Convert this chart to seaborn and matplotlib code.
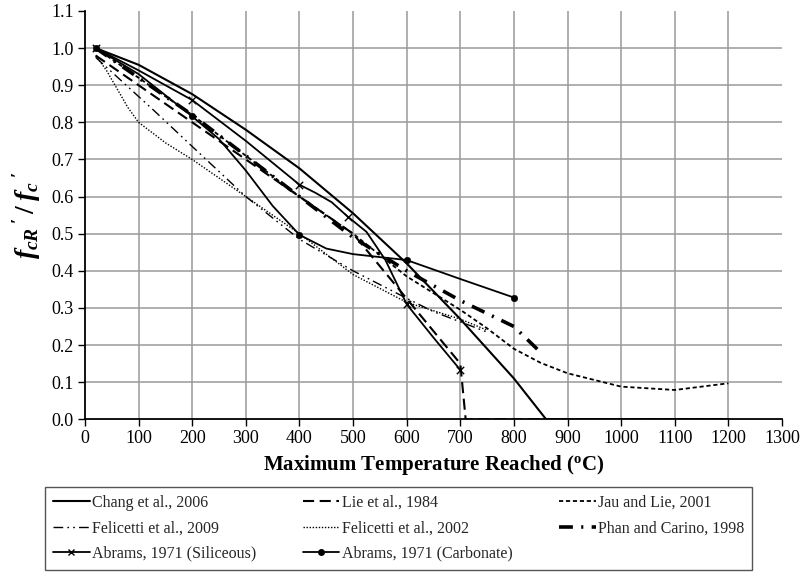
import matplotlib
matplotlib.use("Agg")
import matplotlib.pyplot as plt
from matplotlib.lines import Line2D
import seaborn as sns
import numpy as np

# ---------------- data ----------------
chang_T = [20, 100, 200, 300, 400, 500, 600, 700, 800, 860, 1200]
chang_v = [1.0, 0.955, 0.876, 0.78, 0.676, 0.555, 0.42, 0.27, 0.11, 0.0, 0.0]

lie_T = [20, 100, 200, 300, 400, 500, 600, 700, 710, 1200]
lie_v = [0.98, 0.90, 0.80, 0.70, 0.60, 0.50, 0.325, 0.15, 0.0, 0.0]

jau_T = [20, 100, 200, 300, 400, 500, 600, 700, 750, 800, 850, 900, 1000, 1100, 1200]
jau_v = [1.0, 0.92, 0.82, 0.71, 0.60, 0.50, 0.385, 0.295, 0.245, 0.19, 0.152, 0.124, 0.088, 0.079, 0.097]

fel09_T = [20, 130, 200, 300, 400, 500, 600, 650, 750]
fel09_v = [0.975, 0.83, 0.735, 0.60, 0.485, 0.40, 0.326, 0.29, 0.235]

fel02_T = [20, 40, 60, 80, 100, 150, 200, 300, 400, 500, 600, 700, 750]
fel02_v = [0.98, 0.94, 0.89, 0.84, 0.80, 0.745, 0.70, 0.60, 0.50, 0.39, 0.315, 0.27, 0.24]

phan_T = [20, 100, 200, 300, 400, 500, 600, 650, 700, 750, 800, 850]
phan_v = [1.0, 0.92, 0.82, 0.71, 0.60, 0.49, 0.40, 0.36, 0.32, 0.285, 0.25, 0.18]

# Abrams, 1971 (Siliceous): curve points and measured points (markers)
abs_T = [20, 100, 200, 300, 400, 430, 460, 490, 525, 560, 600, 650, 700]
abs_v = [1.0, 0.94, 0.86, 0.75, 0.632, 0.61, 0.585, 0.546, 0.505, 0.43, 0.31, 0.22, 0.133]
abs_mT = [20, 200, 400, 490, 600, 700]
abs_mv = [1.0, 0.86, 0.632, 0.546, 0.31, 0.133]

# Abrams, 1971 (Carbonate)
abc_T = [20, 100, 200, 250, 300, 350, 400, 450, 500, 550, 600, 700, 800]
abc_v = [1.0, 0.93, 0.816, 0.755, 0.67, 0.575, 0.497, 0.46, 0.445, 0.437, 0.429, 0.378, 0.328]
abc_mT = [20, 200, 400, 600, 800]
abc_mv = [1.0, 0.816, 0.497, 0.429, 0.328]

x_ticks = list(range(0, 1301, 100))
y_ticks = [round(0.1 * i, 1) for i in range(12)]

labels = ["Chang et al., 2006", "Lie et al., 1984", "Jau and Lie, 2001",
          "Felicetti et al., 2009", "Felicetti et al., 2002", "Phan and Carino, 1998",
          "Abrams, 1971 (Siliceous)", "Abrams, 1971 (Carbonate)"]

# ---------------- style ----------------
sns.set_theme(style="white")
plt.rcParams['font.family'] = ['Liberation Serif', 'DejaVu Serif']
plt.rcParams['lines.scale_dashes'] = False
plt.rcParams['mathtext.fontset'] = 'custom'
plt.rcParams['mathtext.it'] = 'Liberation Serif:italic:bold'
plt.rcParams['mathtext.rm'] = 'Liberation Serif:bold'

fig = plt.figure(figsize=(8.06, 5.78), dpi=100)
ax = fig.add_axes([85 / 806, 1 - 419.3 / 578, (782 - 85) / 806, (419.3 - 11) / 578])

styles = {
    "chang": dict(lw=1.5, dashes=None),
    "lie": dict(lw=1.5, dashes=(8, 4)),
    "jau": dict(lw=1.3, dashes=(3, 2)),
    "fel09": dict(lw=1.0, dashes=(7, 3, 1.2, 3, 1.2, 3)),
    "fel02": dict(lw=1.0, dashes=(1, 1.2)),
    "phan": dict(lw=2.6, dashes=(10, 6, 1.5, 6)),
    "abs": dict(lw=1.3, dashes=None),
    "abc": dict(lw=1.3, dashes=None),
}
keys = ["chang", "lie", "jau", "fel09", "fel02", "phan", "abs", "abc"]

series = [("chang", chang_T, chang_v), ("lie", lie_T, lie_v), ("jau", jau_T, jau_v),
          ("fel09", fel09_T, fel09_v), ("fel02", fel02_T, fel02_v), ("phan", phan_T, phan_v),
          ("abs", abs_T, abs_v), ("abc", abc_T, abc_v)]

for key, T, v in series:
    sns.lineplot(x=T, y=v, ax=ax, color='black', sort=False, estimator=None,
                 linewidth=styles[key]['lw'], zorder=3)
    ln = ax.lines[-1]
    if styles[key]['dashes'] is not None:
        ln.set_dashes(styles[key]['dashes'])
    ln.set_solid_capstyle('butt')
    ln.set_dash_capstyle('butt')
    ln.set_solid_joinstyle('round')

sns.scatterplot(x=abs_mT, y=abs_mv, ax=ax, marker='x', color='black', s=28,
                linewidth=1.0, zorder=4)
sns.scatterplot(x=abc_mT, y=abc_mv, ax=ax, marker='o', color='black', s=22,
                edgecolor='black', zorder=4)

ax.set_xlim(0, 1300)
ax.set_ylim(0, 1.1)
ax.set_xticks(x_ticks)
ax.set_yticks(y_ticks)
ax.set_xticklabels([str(t) for t in x_ticks], fontsize=13)
ax.set_yticklabels([f"{t:.1f}" for t in y_ticks], fontsize=13)
ax.grid(True, color='#9a9a9a', linewidth=1.1)
ax.set_axisbelow(True)
ax.xaxis.get_gridlines()[-1].set_visible(False)
ax.xaxis.get_gridlines()[0].set_visible(False)
ax.yaxis.get_gridlines()[-1].set_visible(False)
ax.yaxis.get_gridlines()[0].set_visible(False)
for s in ['top', 'right']:
    ax.spines[s].set_visible(False)
for s in ['left', 'bottom']:
    ax.spines[s].set_color('black')
    ax.spines[s].set_linewidth(1.3)
ax.tick_params(axis='both', direction='out', length=5, width=1.0, color='black',
               bottom=True, left=True, pad=3, labelcolor='black')

ax.set_xlabel(r"Maximum Temperature Reached ($\mathrm{^o}$C)", fontsize=15,
              fontweight='bold', labelpad=4, color='black')
ax.set_ylabel(r"$f_{cR}\,'\,/\;f_{c}\,'$", fontsize=20, labelpad=6, color='black')

# legend (row-wise order as in the reference)
handles = {}
for key in keys[:6]:
    st = styles[key]
    h = Line2D([], [], color='black', lw=st['lw'])
    if st['dashes'] is not None:
        h.set_dashes(st['dashes'])
    handles[key] = h
handles["abs"] = Line2D([], [], color='black', lw=1.3, marker='x', markersize=5, markeredgewidth=1.0)
handles["abc"] = Line2D([], [], color='black', lw=1.3, marker='o', markersize=4)
lab = dict(zip(keys, labels))
order = ["chang", "fel09", "abs", "lie", "fel02", "abc", "jau", "phan"]

leg = fig.legend([handles[k] for k in order], [lab[k] for k in order], ncol=3, loc='upper left',
                 bbox_to_anchor=(45 / 806, 1 - 487 / 578), fontsize=11.5,
                 frameon=True, fancybox=False, edgecolor='#555555', framealpha=1,
                 handlelength=2.3, handletextpad=0.15, columnspacing=2.9,
                 labelspacing=0.58, borderpad=0.5, borderaxespad=0)
leg.get_frame().set_linewidth(1.0)

fig.savefig("out.png", dpi=100)
